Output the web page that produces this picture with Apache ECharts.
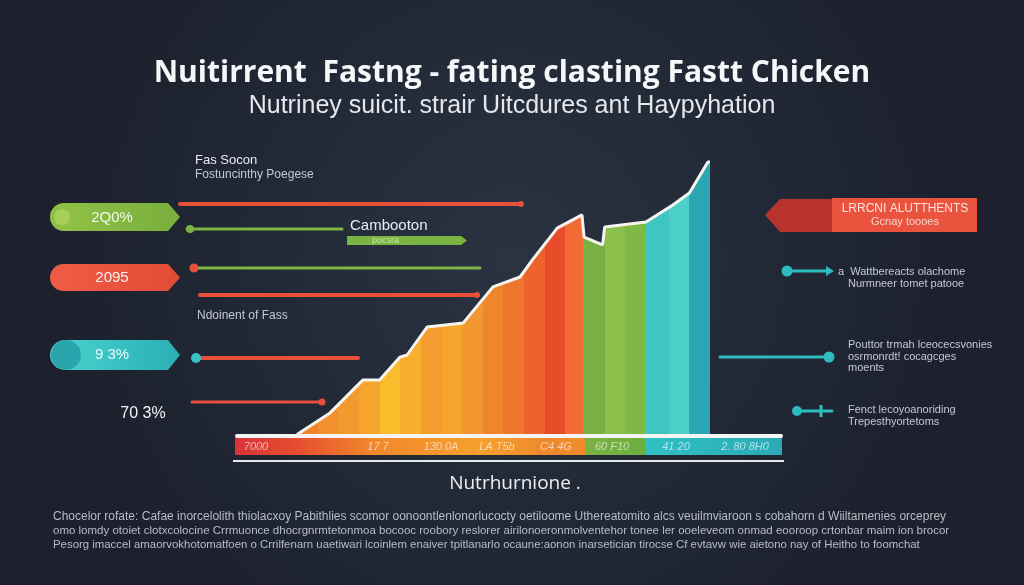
<!DOCTYPE html>
<html>
<head>
<meta charset="utf-8">
<script src="https://cdn.jsdelivr.net/npm/echarts@6/dist/echarts.min.js"></script>
<style>
html,body{margin:0;padding:0;background:#1f2532;}
#chart{width:1024px;height:585px;}
</style>
</head>
<body>
<div id="chart"></div>
<script>
// ---- data ----
var titleText = 'Nuitirrent  Fastng - fating clasting Fastt Chicken';
var subtitleText = 'Nutriney suicit. strair Uitcdures ant Haypyhation';
var axisName = 'Nutrhurnione .';
// envelope of the stepped area (x in stripe units, y in % of scale)
var envX = [0, 1.6, 3.05, 3.2, 4.0, 4.99, 5.33, 6.3, 8.05, 9.49, 10.8, 11.4, 12.6, 13.8, 13.9, 14.8, 14.9, 16.9, 18.2, 19.0, 19.9, 20];
var envY = [0.5, 7.7, 17.7, 18.7, 18.7, 26.3, 27, 36.3, 37.7, 49.7, 53, 58.7, 69.3, 73.7, 66.3, 63.7, 69.7, 71.3, 77, 81, 91.3, 91.3];
// stripe boundaries and colours
var stripeEdges = [0,1,2,3,4,5,6,7,8,9,10,11,12,13,13.85,14.9,15.9,16.85,18,19,20];
var stripeColors = ['#f0842c','#f28f2e','#f39a2c','#f5a52b','#fbbc2c','#f8ad2d','#f49d2e','#f6a52c','#f39630','#f0862c','#ee752c','#ec642c','#e84c2b','#f26a34','#78b043','#8bbf4b','#80b846','#3fc6c2','#4bcfc6','#2ba6b3'];
// bottom strip labels
var stripLabels = ['7000', '17 7', '130.0A', 'LA T5b', 'C4 4G', '60 F10', '41 20', '2. 80 8H0'];
// pill labels
var pillLabels = ['2Q0%', '2095', '9 3%'];
var loneLabel = '70 3%';
var leftTexts = ['Fas Socon', 'Fostuncinthy Poegese', 'Ndoinent of Fass', 'Cambooton', 'pocsra'];
var bannerTexts = ['LRRCNI ALUTTHENTS', 'Gcnay toooes'];
var rightNotes = [
  ['a  Wattbereacts olachome', 'Nurmneer tomet patooe'],
  ['Pouttor trmah lceocecsvonies', 'osrmonrdt! cocagcges', 'moents'],
  ['Fenct lecoyoanoriding', 'Trepesthyortetoms']
];
var footLines = [
  'Chocelor rofate: Cafae inorcelolith thiolacxoy Pabithlies scomor oonoontlenlonorlucocty oetiloome Uthereatomito alcs veuilmviaroon s cobahorn d Wiiltamenies orceprey',
  'omo lomdy otoiet clotxcolocine Crrmuonce dhocrgnrmtetonmoa bocooc roobory reslorer airilonoeronmolventehor tonee ler ooeleveom onmad eooroop crtonbar maim ion brocor',
  'Pesorg imaccel amaorvokhotomatfoen o Crrilfenarn uaetiwari lcoinlem enaiver tpitlanarlo ocaune:aonon inarsetician tirocse Cf evtavw wie aietono nay of Heitho to foomchat'
];

// ---- build ----
var envData = envX.map(function (x, i) { return [x, envY[i]]; });
var pieces = stripeColors.map(function (c, i) {
  var p = { gte: stripeEdges[i], color: c };
  if (i === stripeColors.length - 1) p.lte = stripeEdges[i + 1]; else p.lt = stripeEdges[i + 1];
  return p;
});

var RED = '#e8503a', GREEN = '#7fb546', TEAL = '#2fbcc0', TXT = '#e8ecf2', SUB = '#c3c9d3';
function txt(x, y, t, font, fill, align) {
  return { type: 'text', x: x, y: y, z: 20, style: { text: t, font: font, fill: fill || TXT, textAlign: align || 'left', textVerticalAlign: 'middle' } };
}
function hline(x1, x2, y, color, w) {
  return { type: 'line', z: 10, shape: { x1: x1, y1: y, x2: x2, y2: y }, style: { stroke: color, lineWidth: w || 3, lineCap: 'round' } };
}
function dot(x, y, r, color) {
  return { type: 'circle', z: 11, shape: { cx: x, cy: y, r: r }, style: { fill: color } };
}
function pill(x, y, w, h, c1, c2) {
  return [
    { type: 'polygon', z: 10, shape: { points: [[x + h / 2, y], [x + w - 12, y], [x + w, y + h / 2], [x + w - 12, y + h], [x + h / 2, y + h]] },
      style: { fill: new echarts.graphic.LinearGradient(0, 0, 1, 0, [{ offset: 0, color: c1 }, { offset: 1, color: c2 }]) } },
    { type: 'circle', z: 10, shape: { cx: x + h / 2, cy: y + h / 2, r: h / 2 }, style: { fill: c1 } }
  ];
}

var g = [];
// left pills
g = g.concat(pill(50, 203, 130, 28, '#8fc046', '#79ae3d'));
g.push({ type: 'circle', z: 11, shape: { cx: 62, cy: 217, r: 8 }, style: { fill: '#a6cf5c' } });
g.push(txt(112, 218, pillLabels[0], '15px "Liberation Sans"', '#f4f7ee', 'center'));
g = g.concat(pill(50, 264, 130, 27, '#ee5a43', '#e24c37'));
g.push(txt(112, 278, pillLabels[1], '15px "Liberation Sans"', '#fbeeee', 'center'));
g = g.concat(pill(50, 340, 130, 30, '#46d1cc', '#2aaeb4'));
g.push({ type: 'circle', z: 11, shape: { cx: 66, cy: 355, r: 15 }, style: { fill: '#2aa5ad' } });
g.push(txt(112, 355, pillLabels[2], '15px "Liberation Sans"', '#eefbfb', 'center'));
g.push(txt(143, 414, loneLabel, '16px "Liberation Sans"', '#f0f2f5', 'center'));
// left texts
g.push(txt(195, 160, leftTexts[0], '13px "Liberation Sans"', TXT));
g.push(txt(195, 175, leftTexts[1], '12px "Liberation Sans"', SUB));
g.push(txt(197, 316, leftTexts[2], '12px "Liberation Sans"', SUB));
g.push(txt(350, 226, leftTexts[3], '15px "Liberation Sans"', TXT));
// left lines
g.push(hline(180, 521, 204, RED, 4));
g.push(dot(521, 204, 3, RED));
g.push(hline(187, 342, 229, GREEN, 3));
g.push(dot(190, 229, 4, GREEN));
g.push({ type: 'polygon', z: 10, shape: { points: [[347, 236], [461, 236], [467, 240.5], [461, 245], [347, 245]] }, style: { fill: '#79b443' } });
g.push(txt(372, 241, leftTexts[4], '9px "Liberation Sans"', '#c9e3b0'));
g.push(hline(192, 480, 268, GREEN, 3));
g.push(dot(194, 268, 4.5, RED));
g.push(hline(200, 477, 295, RED, 4));
g.push(dot(477, 295, 3, RED));
g.push(hline(194, 358, 358, RED, 4));
g.push(dot(196, 358, 5, '#38c2c6'));
g.push(hline(192, 322, 402, RED, 3));
g.push(dot(322, 402, 3.5, RED));
// right banner
g.push({ type: 'polygon', z: 10, shape: { points: [[765, 215], [780, 199], [835, 199], [835, 232], [780, 232]] }, style: { fill: '#b8332e' } });
g.push({ type: 'rect', z: 10, shape: { x: 832, y: 198, width: 145, height: 34 }, style: { fill: '#ea543f' } });
g.push(txt(905, 209, bannerTexts[0], '12px "Liberation Sans"', '#fbe3dd', 'center'));
g.push(txt(905, 222, bannerTexts[1], '11px "Liberation Sans"', '#f7d3ca', 'center'));
// right connectors
g.push(hline(787, 830, 271, TEAL, 3));
g.push(dot(787, 271, 5.5, TEAL));
g.push({ type: 'polygon', z: 11, shape: { points: [[826, 266], [834, 271], [826, 276]] }, style: { fill: TEAL } });
g.push(txt(838, 272, rightNotes[0][0], '11px "Liberation Sans"', SUB));
g.push(txt(848, 284, rightNotes[0][1], '11px "Liberation Sans"', SUB));
g.push(hline(720, 830, 357, TEAL, 3));
g.push(dot(829, 357, 5.5, TEAL));
g.push(txt(848, 345, rightNotes[1][0], '11px "Liberation Sans"', SUB));
g.push(txt(848, 357, rightNotes[1][1], '11px "Liberation Sans"', SUB));
g.push(txt(848, 368, rightNotes[1][2], '11px "Liberation Sans"', SUB));
g.push(hline(797, 832, 411, TEAL, 3));
g.push(dot(797, 411, 5, TEAL));
g.push({ type: 'line', z: 11, shape: { x1: 821, y1: 405, x2: 821, y2: 417 }, style: { stroke: TEAL, lineWidth: 3 } });
g.push(txt(848, 410, rightNotes[2][0], '11px "Liberation Sans"', SUB));
g.push(txt(848, 422, rightNotes[2][1], '11px "Liberation Sans"', SUB));
// base strip
g.push({ type: 'rect', z: 12, shape: { x: 235, y: 434, width: 548, height: 4, r: 2 }, style: { fill: '#f4f4f2' } });
g.push({ type: 'rect', z: 9, shape: { x: 235, y: 438, width: 547, height: 17 },
  style: { fill: new echarts.graphic.LinearGradient(0, 0, 1, 0, [
    { offset: 0, color: '#d8323a' }, { offset: 0.12, color: '#e6512f' }, { offset: 0.25, color: '#f2862c' },
    { offset: 0.45, color: '#f5a02c' }, { offset: 0.56, color: '#ef8a2c' }, { offset: 0.64, color: '#f08a2d' },
    { offset: 0.641, color: '#7ab242' }, { offset: 0.75, color: '#6cae40' }, { offset: 0.751, color: '#30c1c4' },
    { offset: 1, color: '#2aa9b5' }]) } });
var stripX = [256, 378, 441, 497, 556, 612, 676, 745];
stripLabels.forEach(function (s, i) {
  g.push(txt(stripX[i], 447, s, 'italic 11px "Liberation Sans"', 'rgba(255,255,255,0.62)', 'center'));
});
g.push({ type: 'rect', z: 12, shape: { x: 233, y: 460, width: 551, height: 2 }, style: { fill: '#e6e8ea' } });
// footer
var footFonts = ['12px "Liberation Sans"', '11.5px "Liberation Sans"', '11.4px "Liberation Sans"'];
footLines.forEach(function (s, i) {
  g.push(txt(53, 517 + i * 14, s, footFonts[i], '#b7bdc7'));
});

var chart = echarts.init(document.getElementById('chart'), null, { renderer: 'canvas' });
chart.setOption({
  backgroundColor: new echarts.graphic.RadialGradient(0.5, 0.45, 0.75, [
    { offset: 0, color: '#2a3342' }, { offset: 1, color: '#1c212d' }]),
  animation: false,
  title: [
    { text: titleText, left: 'center', top: 53, textStyle: { color: '#f6f7f9', fontSize: 30, fontWeight: 'bold', fontFamily: 'Open Sans' } },
    { text: subtitleText, left: 'center', top: 89, textStyle: { color: '#e4e7ec', fontSize: 25, fontWeight: 'normal', fontFamily: 'Liberation Sans' } },
    { text: axisName, left: 510, top: 469, textAlign: 'center', textStyle: { color: '#eef0f3', fontSize: 19, fontWeight: 'normal', fontFamily: 'Open Sans' } }
  ],
  grid: { left: 297, width: 413, top: 136, height: 300 },
  xAxis: { type: 'value', min: 0, max: 20, show: false },
  yAxis: { type: 'value', min: 0, max: 100, show: false },
  visualMap: { type: 'piecewise', show: false, dimension: 0, seriesIndex: 0, pieces: pieces },
  series: [
    { type: 'line', data: envData, symbol: 'none', lineStyle: { width: 0 }, areaStyle: { opacity: 1 }, z: 2 },
    { type: 'line', data: envData, symbol: 'none', lineStyle: { width: 3, color: '#f7f4ef' }, z: 3 }
  ],
  graphic: g
});
</script>
</body>
</html>
